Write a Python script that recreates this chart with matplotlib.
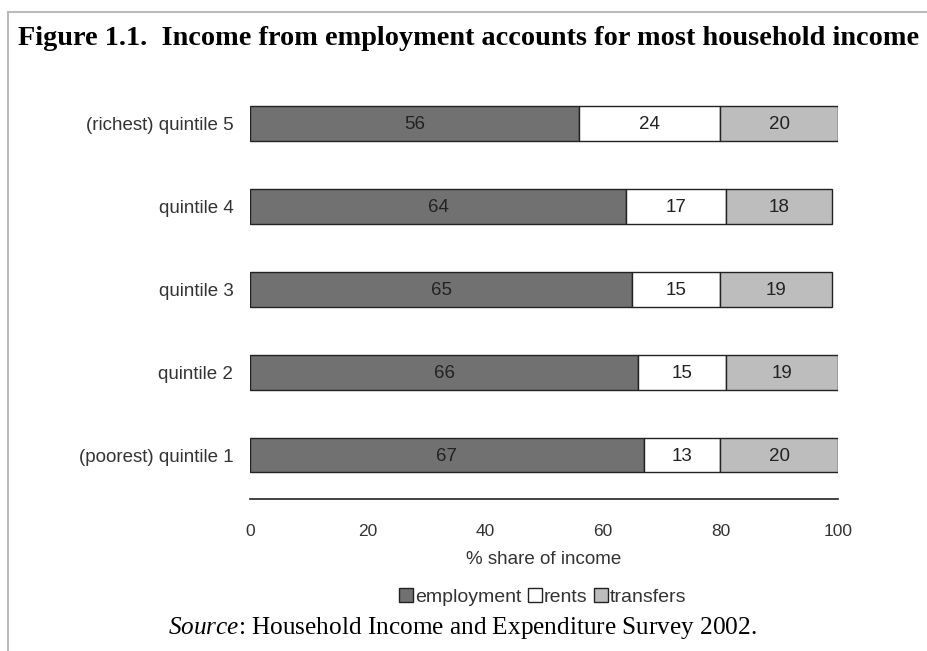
import matplotlib
matplotlib.use("Agg")
import matplotlib.pyplot as plt
import numpy as np
from matplotlib.lines import Line2D

# data (bottom row first)
quintiles = ["(poorest) quintile 1", "quintile 2", "quintile 3", "quintile 4", "(richest) quintile 5"]
employment = [67, 66, 65, 64, 56]
rents = [13, 15, 15, 17, 24]
transfers = [20, 19, 19, 18, 20]
xticks = [0, 20, 40, 60, 80, 100]

series = [("employment", employment, "#717171"),
          ("rents", rents, "#ffffff"),
          ("transfers", transfers, "#bdbdbd")]

plt.rcParams["font.family"] = ["Liberation Sans", "DejaVu Sans"]
plt.rcParams["mathtext.fontset"] = "custom"
plt.rcParams["mathtext.it"] = "Liberation Serif:italic"
plt.rcParams["mathtext.rm"] = "Liberation Serif"

fig = plt.figure(figsize=(9.28, 6.51), dpi=100)
ax = fig.add_axes([0.2694, 0.2335, 0.6336, 0.6205])

y = np.arange(len(quintiles))
left = np.zeros(len(quintiles))
for name, vals, col in series:
    vals = np.array(vals)
    ax.barh(y, vals, left=left, height=0.42, color=col,
            edgecolor="#222222", linewidth=1.0, label=name)
    for yi, l, v in zip(y, left, vals):
        ax.text(l + v / 2, yi - 0.02, str(v), ha="center", va="center",
                fontsize=13.5, color="#222222")
    left = left + vals

ax.set_xlim(0, 100)
ax.set_ylim(-0.53, 4.34)
ax.set_yticks(y)
ax.set_yticklabels(quintiles, fontsize=13.5, color="#333333")
ax.set_xticks(xticks)
ax.set_xticklabels([str(t) for t in xticks], fontsize=12.5, color="#333333")
ax.tick_params(axis="y", length=0, pad=12)
ax.tick_params(axis="x", length=0, pad=18)
for s in ["top", "right", "left"]:
    ax.spines[s].set_visible(False)
ax.spines["bottom"].set_color("#222222")
ax.spines["bottom"].set_linewidth(1.2)
ax.set_xlabel("% share of income", fontsize=13.5, color="#333333", labelpad=9)

fig.legend(loc="center", bbox_to_anchor=(0.585, 0.083), ncol=3, frameon=False,
           fontsize=14, handlelength=0.7, handleheight=0.7, handletextpad=0.1,
           columnspacing=0.35, labelcolor="#333333")

fig.text(0.0194, 0.941, "Figure 1.1.  Income from employment accounts for most household income",
         family="Liberation Serif", fontweight="bold", fontsize=20.3,
         ha="left", va="center")
fig.text(0.181, 0.035, "$\\mathit{Source}$: Household Income and Expenditure Survey 2002.",
         family="Liberation Serif", fontsize=18.2, ha="left", va="center")

# border of the scanned page
fig.add_artist(Line2D([8 / 928, 8 / 928], [0, 1 - 12 / 651], color="#bbbbbb", lw=1.5))
fig.add_artist(Line2D([8 / 928, 1], [1 - 12 / 651, 1 - 12 / 651], color="#bbbbbb", lw=1.5))

fig.savefig("out.png", dpi=100)
